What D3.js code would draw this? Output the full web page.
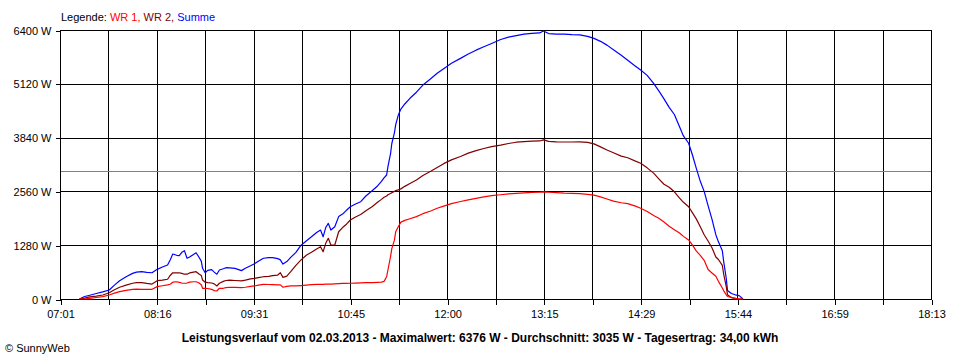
<!DOCTYPE html>
<html>
<head>
<meta charset="utf-8">
<script src="https://cdn.jsdelivr.net/npm/d3@7"></script>
<style>
  html, body { margin: 0; padding: 0; background: #fff; }
  svg { display: block; }
  text { font-family: "Liberation Sans", Arial, sans-serif; }
</style>
</head>
<body>
<svg id="chart" width="960" height="360"></svg>
<script>
// ---- data ----
const times = ["07:16","07:20","07:24","07:29","07:34","07:39","07:43","07:47","07:52","07:57","08:00","08:04","08:08","08:12","08:16","08:20","08:24","08:26","08:28","08:31","08:33","08:35","08:37","08:39","08:41","08:44","08:46","08:48","08:50","08:51","08:53","08:55","08:58","09:00","09:02","09:04","09:07","09:09","09:12","09:16","09:21","09:24","09:28","09:31","09:34","09:38","09:42","09:45","09:49","09:51","09:53","09:56","09:59","10:03","10:07","10:11","10:15","10:19","10:22","10:24","10:26","10:28","10:30","10:33","10:36","10:39","10:42","10:45","10:49","10:53","10:57","11:02","11:06","11:09","11:11","11:13","11:14","11:16","11:17","11:19","11:20","11:22","11:24","11:27","11:31","11:36","11:41","11:47","11:52","11:57","12:03","12:10","12:16","12:22","12:28","12:34","12:41","12:47","12:53","12:59","13:05","13:11","13:14","13:18","13:24","13:30","13:36","13:42","13:48","13:53","13:58","14:03","14:08","14:14","14:19","14:25","14:29","14:34","14:39","14:43","14:47","14:51","14:55","14:59","15:02","15:06","15:09","15:12","15:15","15:18","15:21","15:24","15:27","15:29","15:32","15:33","15:35","15:36","15:39","15:42","15:45","15:48"];

const summe = [0,60,90,130,170,215,330,435,530,610,640,650,635,625,705,760,810,930,1070,1040,1030,1110,1150,970,1000,1060,1100,1005,900,730,625,680,700,640,590,690,720,745,740,730,675,730,790,840,900,970,985,985,960,930,830,890,990,1110,1280,1380,1480,1580,1640,1480,1700,1800,1640,1720,1960,2020,2110,2195,2260,2315,2450,2580,2690,2800,2880,2950,3150,3450,3700,3950,4150,4375,4520,4640,4775,4920,5090,5240,5370,5480,5610,5725,5830,5920,6000,6080,6175,6230,6265,6300,6320,6330,6376,6315,6300,6300,6290,6285,6250,6200,6130,6040,5930,5800,5680,5540,5450,5320,5130,4950,4760,4560,4390,4100,3880,3705,3420,3100,2800,2560,2220,1900,1530,1360,1150,900,500,200,130,100,80,0];

const wr2 = [0,20,50,70,95,150,220,280,330,375,390,390,370,355,435,450,470,560,625,620,625,610,590,590,620,640,650,600,560,450,400,390,380,360,310,375,420,440,450,440,430,450,480,490,510,530,540,555,570,625,515,545,650,800,930,1040,1110,1190,1245,1125,1325,1445,1285,1285,1600,1700,1780,1880,1950,2010,2100,2200,2300,2370,2420,2450,2480,2510,2530,2560,2580,2595,2620,2680,2750,2830,2940,3040,3130,3220,3310,3390,3470,3530,3580,3625,3660,3700,3730,3745,3755,3760,3785,3750,3740,3735,3735,3740,3725,3690,3620,3545,3480,3400,3360,3280,3230,3120,2995,2860,2730,2660,2550,2400,2300,2195,2050,1900,1720,1530,1380,1220,1000,940,800,600,300,100,30,15,0,0];

const wr1 = [0,0,15,35,55,95,140,175,205,230,235,230,230,230,295,315,335,350,400,410,395,380,375,380,400,410,410,385,340,255,255,250,230,200,190,255,255,270,280,275,270,280,300,310,330,350,345,340,335,335,280,300,310,310,320,330,340,350,350,350,355,355,355,360,365,370,370,375,380,385,390,390,395,400,420,530,690,1005,1200,1400,1600,1720,1830,1870,1910,1960,2030,2095,2160,2210,2270,2320,2360,2395,2430,2460,2480,2500,2515,2525,2535,2540,2550,2540,2530,2520,2515,2505,2490,2470,2430,2380,2330,2290,2270,2210,2160,2080,1985,1920,1830,1730,1650,1570,1490,1405,1280,1140,1040,920,700,620,540,420,260,200,100,60,40,15,0,0];

const average = 3035;

const yTickValues = [0, 1280, 2560, 3840, 5120, 6400];
const yTickLabels = ["0 W", "1280 W", "2560 W", "3840 W", "5120 W", "6400 W"];
const xTickLabels = ["07:01", "08:16", "09:31", "10:45", "12:00", "13:15", "14:29", "15:44", "16:59", "18:13"];

const legendParts = [
  { text: "Legende: ", color: "#000000" },
  { text: "WR 1, ", color: "#ff0000" },
  { text: "WR 2, ", color: "#800000" },
  { text: "Summe", color: "#0000ff" }
];
const titleText = "Leistungsverlauf vom 02.03.2013 - Maximalwert: 6376 W - Durchschnitt: 3035 W - Tagesertrag: 34,00 kWh";
const creditText = "\u00A9 SunnyWeb";

// ---- drawing ----
const svg = d3.select("#chart");
const plotL = 60, plotR = 931, plotT = 30, plotB = 299;

const toMin = s => { const [h, m] = s.split(":").map(Number); return h * 60 + m; };
const tStart = toMin(xTickLabels[0]);
const tEnd = toMin(xTickLabels[xTickLabels.length - 1]);

const x = d3.scaleLinear().domain([tStart, tEnd]).range([plotL, plotR]);
const y = d3.scaleLinear().domain([0, 6400]).range([plotB, plotT]);

const nInt = (xTickLabels.length - 1) * 2;
const xTicks = d3.range(nInt + 1).map(i => tStart + i * (tEnd - tStart) / nInt);

// grid
const grid = svg.append("g").attr("shape-rendering", "crispEdges");
grid.selectAll("line.v").data(xTicks.slice(1)).join("line")
  .attr("x1", d => Math.round(x(d)) + 0.5).attr("x2", d => Math.round(x(d)) + 0.5)
  .attr("y1", plotT).attr("y2", plotB)
  .attr("stroke", "#000").attr("stroke-width", 1);
grid.selectAll("line.h").data(yTickValues.slice(1)).join("line")
  .attr("x1", plotL).attr("x2", plotR + 1)
  .attr("y1", d => Math.round(y(d)) + 0.5).attr("y2", d => Math.round(y(d)) + 0.5)
  .attr("stroke", "#000").attr("stroke-width", 1);

// average line
grid.append("line")
  .attr("x1", plotL).attr("x2", plotR)
  .attr("y1", Math.round(y(average)) + 0.5).attr("y2", Math.round(y(average)) + 0.5)
  .attr("stroke", "#808080").attr("stroke-width", 1);

// axes
const xAxis = d3.axisBottom(x).tickValues(xTicks).tickSize(5).tickPadding(6)
  .tickFormat((d, i) => i % 2 === 0 ? xTickLabels[i / 2] : "");
const gx = svg.append("g").attr("transform", `translate(0.5,${plotB + 0.5})`).call(xAxis);
gx.select(".domain").attr("d", `M${plotL},0H${plotR}`).attr("stroke", "#000").attr("shape-rendering", "crispEdges");
gx.selectAll(".tick line").attr("stroke", "#000").attr("shape-rendering", "crispEdges");
gx.selectAll(".tick text").attr("font-size", 11).attr("font-family", "'Liberation Sans', Arial, sans-serif").attr("fill", "#000");

const yAxis = d3.axisLeft(y).tickValues(yTickValues).tickSize(5).tickPadding(4)
  .tickFormat((d, i) => yTickLabels[i]);
const gy = svg.append("g").attr("transform", `translate(${plotL + 0.5},0.5)`).call(yAxis);
gy.select(".domain").attr("d", `M0,${plotT}V${plotB}`).attr("stroke", "#000").attr("shape-rendering", "crispEdges");
gy.selectAll(".tick line").attr("stroke", "#000").attr("shape-rendering", "crispEdges");
gy.selectAll(".tick text").attr("font-size", 11).attr("font-family", "'Liberation Sans', Arial, sans-serif").attr("fill", "#000");

// series
const series = [
  { name: "Summe", values: summe, color: "#0000ff" },
  { name: "WR 2", values: wr2, color: "#800000" },
  { name: "WR 1", values: wr1, color: "#ff0000" }
];
const line = d3.line().x(d => x(d[0])).y(d => y(d[1]));
svg.append("g").selectAll("path").data(series).join("path")
  .attr("d", s => line(times.map((t, i) => [toMin(t), s.values[i]])))
  .attr("fill", "none")
  .attr("stroke", s => s.color)
  .attr("stroke-width", 1.2)
  .attr("stroke-linejoin", "round");

// legend
const leg = svg.append("text").attr("x", 61).attr("y", 21)
  .attr("font-size", 11).attr("xml:space", "preserve");
leg.selectAll("tspan").data(legendParts).join("tspan")
  .attr("fill", d => d.color)
  .style("white-space", "pre")
  .text(d => d.text);

// title
svg.append("text").attr("x", 480).attr("y", 342)
  .attr("text-anchor", "middle")
  .attr("font-size", 12).attr("font-weight", "bold")
  .text(titleText);

// credit
svg.append("text").attr("x", 5).attr("y", 352)
  .attr("font-size", 11)
  .text(creditText);
</script>
</body>
</html>
